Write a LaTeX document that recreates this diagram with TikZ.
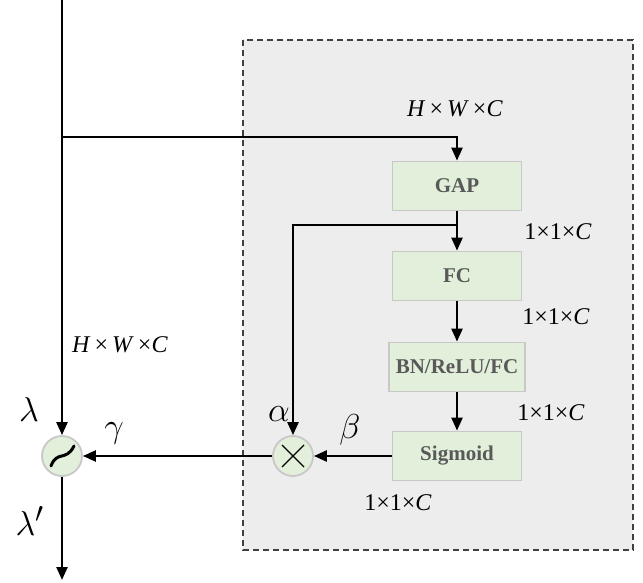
\documentclass[tikz,border=0pt]{standalone}
\usepackage{fontspec}
\setmainfont{Liberation Serif}
\usetikzlibrary{arrows.meta}
\definecolor{boxgreen}{HTML}{E2EFDA}
\definecolor{boxedge}{HTML}{C8C8C8}
\definecolor{boxtext}{HTML}{595959}
\definecolor{panelfill}{HTML}{EDEDED}
\definecolor{paneledge}{HTML}{404040}

\begin{document}
\begin{tikzpicture}[x=0.5pt, y=-0.5pt, >={Triangle[length=6.5pt,width=5.5pt]},
  opbox/.style={draw=boxedge, fill=boxgreen, line width=0.9pt, minimum width=64.5pt, minimum height=24.5pt, inner sep=0pt, font=\fontsize{10.5}{12}\selectfont\bfseries, text=boxtext},
  joint/.style={circle, draw=boxedge, fill=boxgreen, line width=0.9pt, minimum size=20pt, inner sep=0pt},
  flow/.style={->, line width=1.2pt},
  dimlab/.style={font=\fontsize{12}{14}\selectfont},
  greek/.style={font=\fontsize{19}{21}\selectfont}]
  \useasboundingbox (0,0) rectangle (643,583);
  \draw[fill=panelfill, draw=paneledge, line width=0.6pt, dash pattern=on 3pt off 2pt] (243,40) rectangle (633,550);
  \node[opbox] (gap) at (457,186) {GAP};
  \node[opbox] (fc) at (457,276) {FC};
  \node[opbox, minimum width=68pt] (bnrelu) at (457,367) {BN/ReLU/FC};
  \node[opbox] (sigm) at (457,456) {Sigmoid};
  \node[joint] (mul) at (293,456) {};
  \node[joint] (mix) at (62,456) {};
  \coordinate (top) at (62,0);
  \coordinate (bot) at (62,580);
  \coordinate (split) at (62,137);
  \coordinate (branch) at (457,225);
  \draw[flow] (top) -- (mix);
  \draw[flow] (split) -| (gap);
  \draw[flow] (gap) -- (fc);
  \draw[flow] (branch) -| (mul);
  \draw[flow] (fc) -- (bnrelu);
  \draw[flow] (bnrelu) -- (sigm);
  \draw[flow] (sigm) -- (mul);
  \draw[flow] (mul) -- (mix);
  \draw[flow] (mix) -- (bot);
  \draw[line width=0.7pt] ([shift={(-5.5pt,-5.5pt)}]mul.center) -- ([shift={(5.5pt,5.5pt)}]mul.center);
  \draw[line width=0.7pt] ([shift={(-5.5pt,5.5pt)}]mul.center) -- ([shift={(5.5pt,-5.5pt)}]mul.center);
  \draw[line width=1.5pt, line cap=round] ([shift={(-5.5pt,-5pt)}]mix.center) .. controls ([shift={(-2.5pt,3pt)}]mix.center) and ([shift={(2pt,-3pt)}]mix.center) .. ([shift={(6pt,5pt)}]mix.center);
  \node[dimlab] at (455,109) {\textit{H}\,×\,\textit{W}\,×\textit{C}};
  \node[dimlab] at (120,345) {\textit{H}\,×\,\textit{W}\,×\textit{C}};
  \node[dimlab] at (558,232) {1×1×\textit{C}};
  \node[dimlab] at (556,317) {1×1×\textit{C}};
  \node[dimlab] at (551,413) {1×1×\textit{C}};
  \node[dimlab] at (398,503) {1×1×\textit{C}};
  \node[greek] at (29,409) {$\lambda$};
  \node[greek] at (114,433) {$\gamma$};
  \node[greek] at (30,521) {$\lambda'$};
  \node[greek] at (279,414) {$\alpha$};
  \node[greek] at (350,430) {$\beta$};
\end{tikzpicture}
\end{document}
